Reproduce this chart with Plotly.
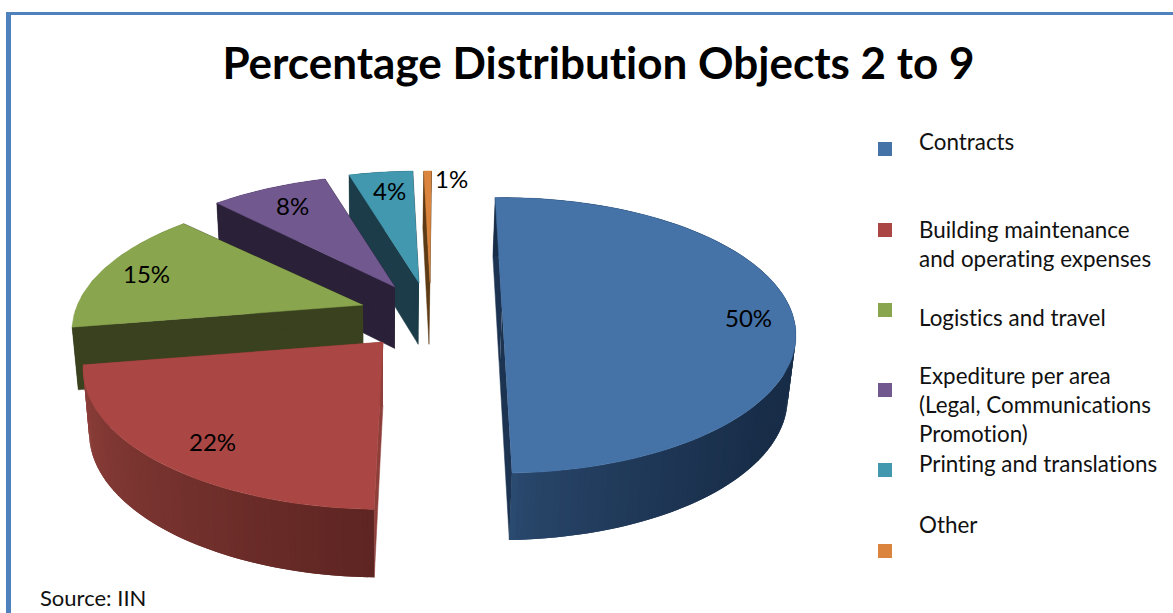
import numpy as np
import plotly.graph_objects as go

title = "Percentage Distribution Objects 2 to 9"
categories = ["Contracts", "Building maintenance<br>and operating expenses", "Logistics and travel",
              "Expediture per area<br>(Legal, Communications<br>Promotion)", "Printing and translations", "Other"]
values = [50, 22, 15, 7.7, 4.2, 0.5]
value_labels = ["50%", "22%", "15%", "8%", "4%", "1%"]
top_colors = ["#4572A7", "#AA4643", "#89A54E", "#71588F", "#4198AF", "#DB843D"]
wall_colors = ["#1c3452", "#8e3f3a", "#3a411e", "#2a2138", "#1b3c48", "#5d3b15"]
rim_left = ["#2b4a70", "#8f403b", "#3a411e", "#2a2138", "#1b3c48", "#5d3b15"]
rim_right = ["#182d48", "#5e2522", "#3a411e", "#2a2138", "#1b3c48", "#5d3b15"]

# slice tips after explosion, in the pixel-sized plot frame
tips = [(502, 309), (383, 342), (363, 305), (395, 287), (419, 283), (430, 283)]
scales = [0.995, 1.015, 0.985, 1.0, 1.0, 1.0]
nudges = [0, 3, 3, 4.1, 4.1, 4.1]
label_pos = [(748, 317), (212, 441), (146, 273), (292, 205), (389, 190), (451, 178)]
legend_y = [149, 230, 310, 390, 470, 551]
legend_text_y = [141, 244, 317, 404, 463, 524]

START = -1.6
A, B, P = 290, 133.4, 0.191
VX, K = 380, 0.98


def rim(t, tip, s):
    c, n = np.cos(np.radians(t)), np.sin(np.radians(t))
    w = 1 + P * c
    return tip[0] + s * A * n / w, tip[1] - s * B * c / w


def lower(x, y):
    return VX + (x - VX) * K, y + 58 + 0.03 * (y - 172)


def mix(c1, c2, f):
    a = [int(c1[i:i + 2], 16) for i in (1, 3, 5)]
    b = [int(c2[i:i + 2], 16) for i in (1, 3, 5)]
    return "rgb(%d,%d,%d)" % tuple(round(u + (v - u) * f) for u, v in zip(a, b))


fig = go.Figure()


def poly(xs, ys, color, lw=0.5):
    fig.add_trace(go.Scatter(x=list(xs), y=list(ys), mode="lines", fill="toself", fillcolor=color,
                             line=dict(color=color, width=lw), hoverinfo="skip", showlegend=False))


edges = np.cumsum([0] + values) * 3.6 + START
for i in [5, 4, 3, 2, 1, 0]:
    t0, t1 = edges[i] + nudges[i], edges[i + 1] + nudges[i]
    tip, s = tips[i], scales[i]
    for t in (t0, t1):
        x, y = rim(t, tip, s)
        x2, y2 = lower(x, y)
        tx, ty = lower(*tip)
        poly([tip[0], x, x2, tx], [tip[1], y, y2, ty], wall_colors[i])
    n = {0: 180, 1: 80}.get(i, 8)
    ts = np.linspace(t0, t1, n + 1)
    # painted from the far end so that each band overlaps its neighbour and no seam shows
    for j in range(n):
        xa, ya = rim(ts[j], tip, s)
        xb, yb = rim(ts[min(j + 2, n)], tip, s)
        xc, yc = lower(xb, yb)
        xd, yd = lower(xa, ya)
        f = 1 - j / (n - 1)
        if i == 0:
            f = min(1, f / 0.28) ** 0.6
        poly([xa, xb, xc, xd], [ya, yb, yc, yd], mix(rim_left[i], rim_right[i], f), lw=0)
    ts = np.linspace(t0, t1, 80)
    px, py = rim(ts, tip, s)
    poly(np.r_[tip[0], px], np.r_[tip[1], py], top_colors[i])

fig.add_trace(go.Scatter(x=[885] * 6, y=legend_y, mode="markers", hoverinfo="skip", showlegend=False,
                         marker=dict(symbol="square", size=14, color=top_colors, line=dict(width=0))))

ann = [dict(x=x, y=y, text=t, showarrow=False, font=dict(size=24, color="#000"))
       for (x, y), t in zip(label_pos, value_labels)]
ann += [dict(x=917, y=y, text=t, showarrow=False, xanchor="left", align="left",
             font=dict(size=22.4, color="#111"))
        for y, t in zip(legend_text_y, categories)]
ann += [dict(x=598, y=62, text="<b>%s</b>" % title, showarrow=False, font=dict(size=44, color="#000")),
        dict(x=38, y=597, text="Source: IIN", showarrow=False, xanchor="left", font=dict(size=22, color="#111"))]

shapes = [dict(type="rect", x0=6, x1=11, y0=12, y1=613, fillcolor="#4F81BD", line_width=0, layer="below"),
          dict(type="rect", x0=6, x1=1173, y0=12, y1=15, fillcolor="#4F81BD", line_width=0, layer="below")]

fig.update_layout(width=1173, height=613, margin=dict(l=0, r=0, t=0, b=0), paper_bgcolor="white",
                  plot_bgcolor="white", font=dict(family="Lato"), annotations=ann, shapes=shapes,
                  xaxis=dict(range=[0, 1173], visible=False, fixedrange=True),
                  yaxis=dict(range=[613, 0], visible=False, fixedrange=True))
fig.write_html("out.html", config=dict(displayModeBar=False),
               post_script="document.body.style.margin='0';document.body.style.overflow='hidden';"
                           "var s=document.createElement('style');"
                           "s.textContent='svg text,svg tspan{font-variant-ligatures:none !important;"
                           "font-feature-settings:\"liga\" 0,\"clig\" 0 !important;text-rendering:optimizeSpeed !important}';"
                           "document.head.appendChild(s);")
